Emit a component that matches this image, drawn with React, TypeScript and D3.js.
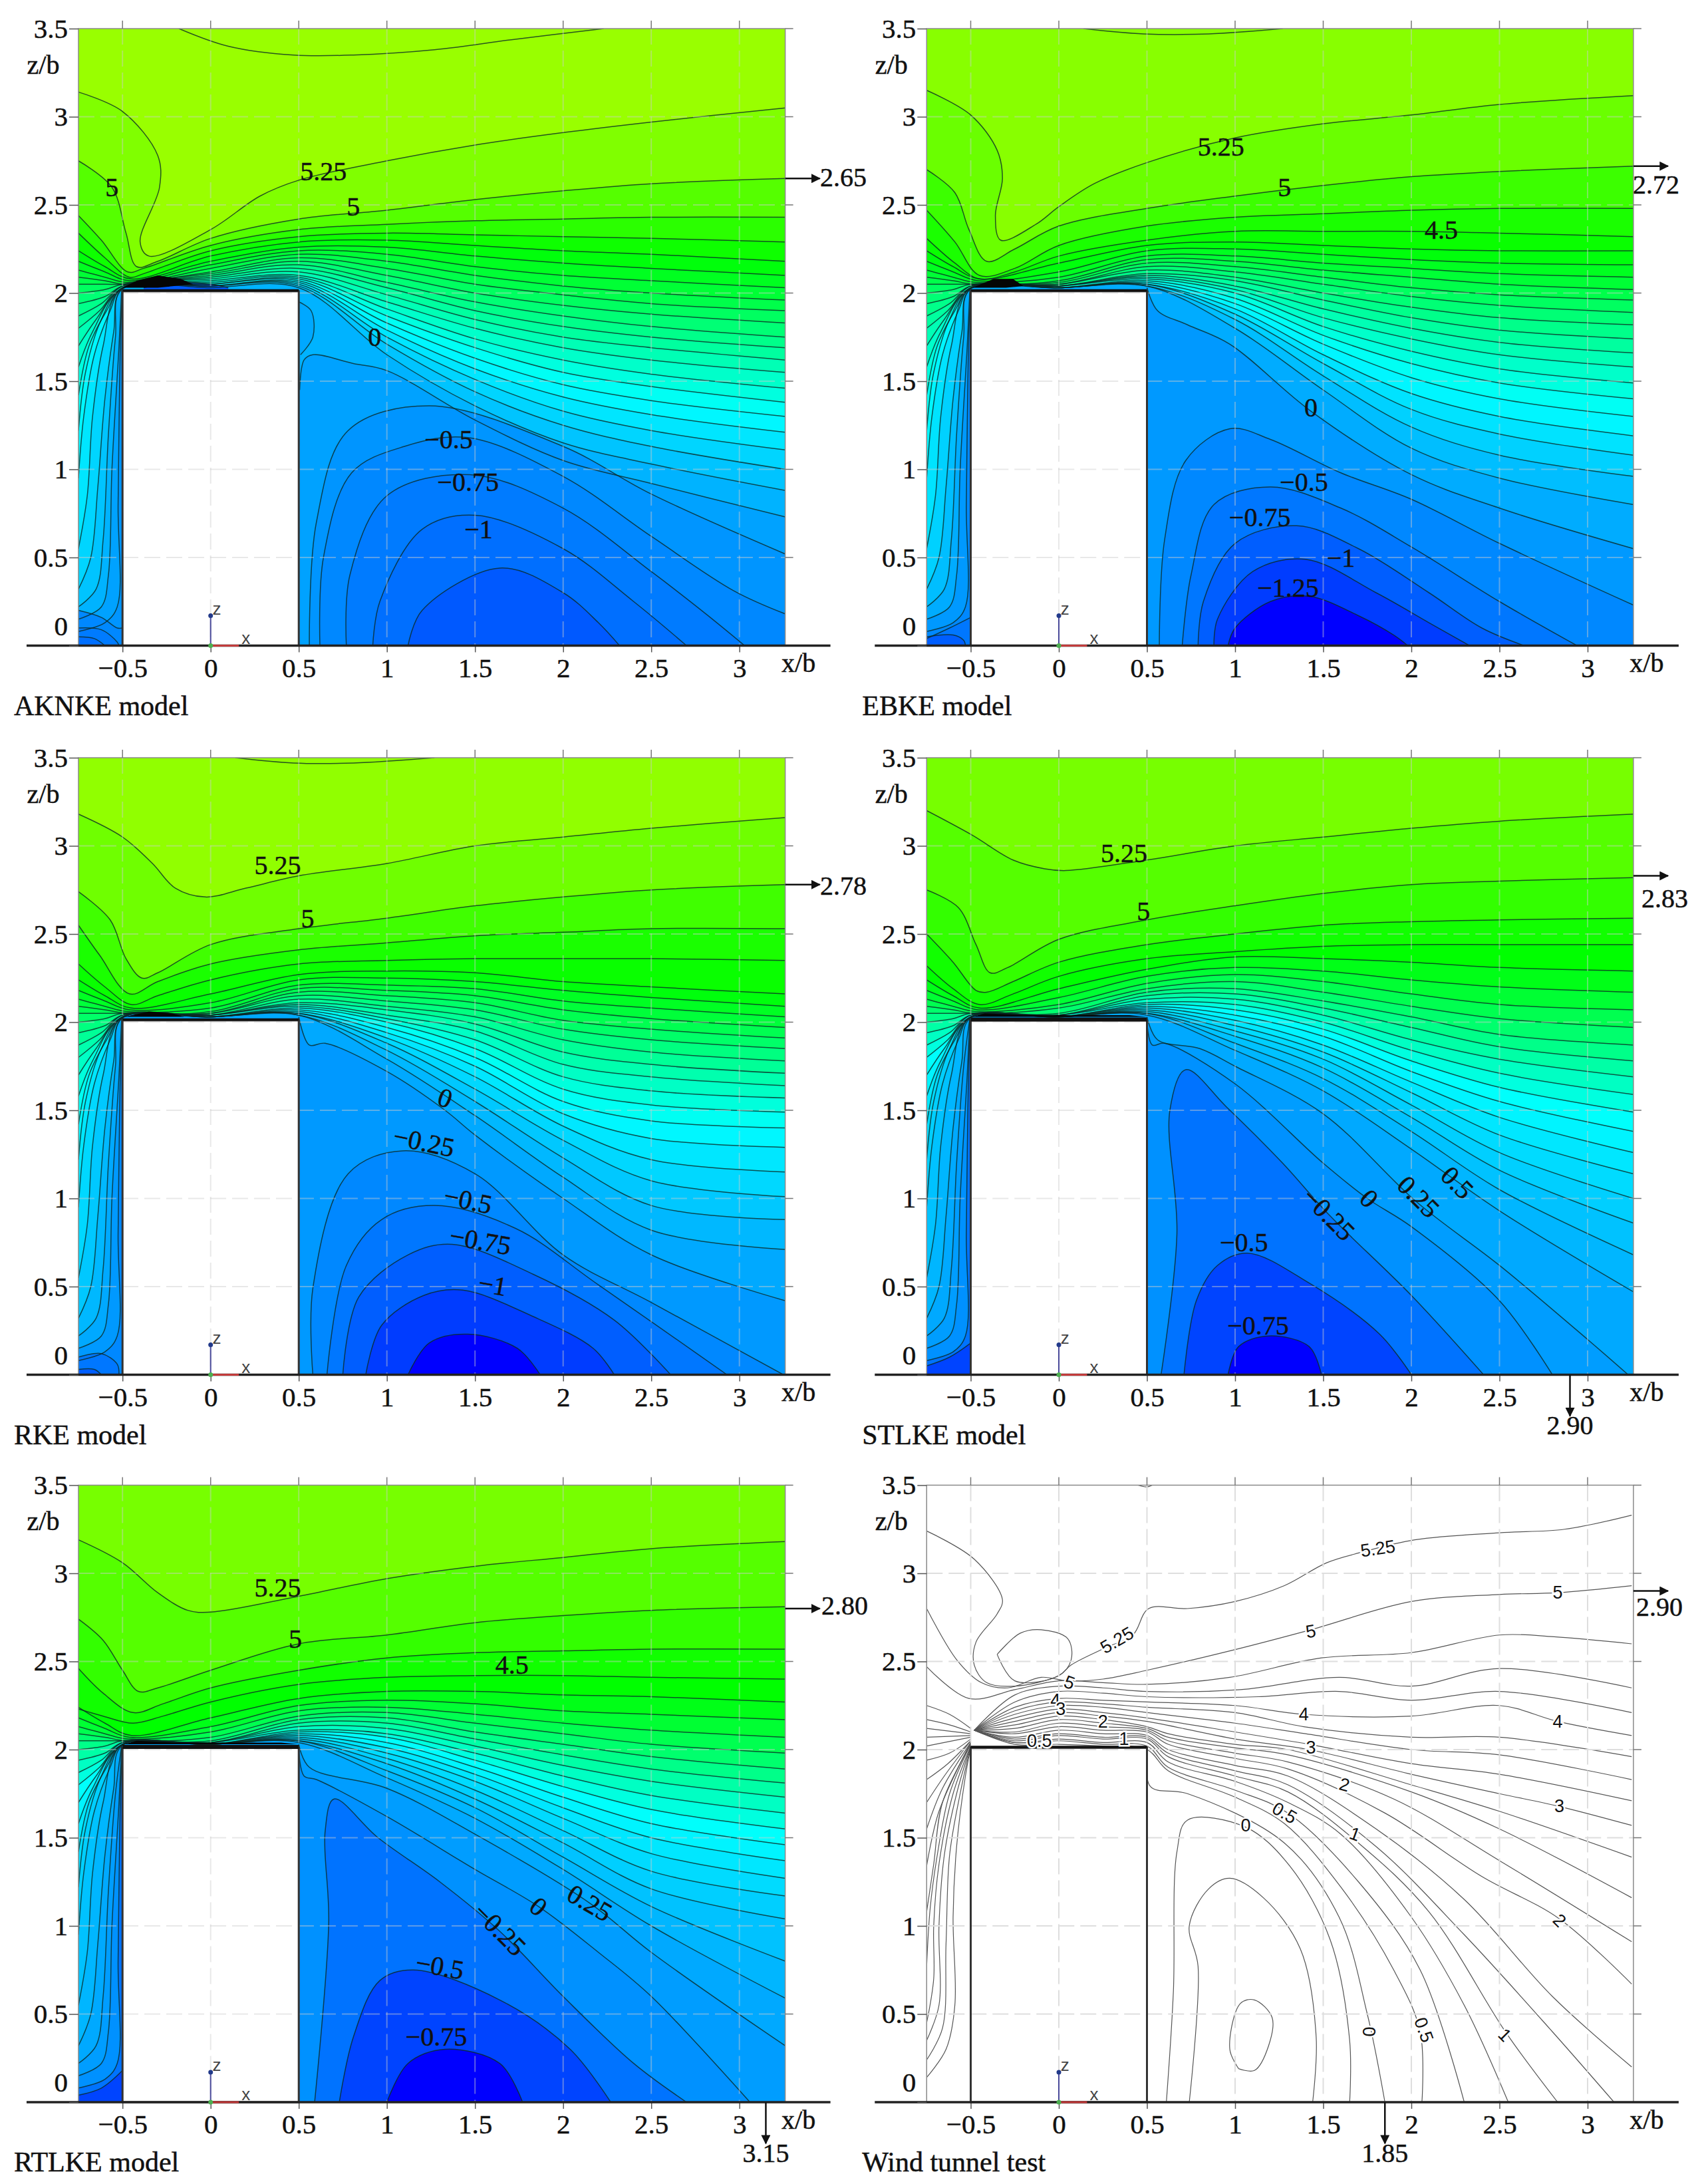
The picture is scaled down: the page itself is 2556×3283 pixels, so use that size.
import { useEffect, useRef } from 'react';
import * as d3 from 'd3';

const xTicks = [-0.5, 0, 0.5, 1, 1.5, 2, 2.5, 3];
const zTicks = [0, 0.5, 1, 1.5, 2, 2.5, 3, 3.5];

// x stations of the fan of contour lines downstream of the roof
const fanX = [0, 0.5, 1, 1.5, 2, 2.5, 3.26];
const rowLevels = [4.25, 4, 3.75, 3.5, 3.25, 3, 2.75, 2.5, 2.25, 2, 1.75, 1.5, 1.25, 1, 0.75, 0.5, 0.25];

// contour lines on the windward wall, left edge up to the corner (x,z pairs)
const wallChains: Record<string, number[]> = {
  '4.25': [-0.75, 2.24, -0.6, 2.15, -0.45, 2.08],
  '4': [-0.75, 2.18, -0.6, 2.12, -0.46, 2.07],
  '3.75': [-0.75, 2.13, -0.6, 2.09, -0.47, 2.06],
  '3.5': [-0.75, 2.09, -0.6, 2.07, -0.48, 2.05],
  '3.25': [-0.75, 2.05, -0.6, 2.05, -0.49, 2.05],
  '3': [-0.75, 2.0, -0.6, 2.02, -0.5, 2.05],
  '2.75': [-0.75, 1.94, -0.6, 1.98, -0.5, 2.04],
  '2.5': [-0.75, 1.87, -0.62, 1.94, -0.5, 2.04],
  '2.25': [-0.75, 1.8, -0.63, 1.9, -0.5, 2.04],
  '2': [-0.75, 1.7, -0.65, 1.85, -0.5, 2.03],
  '1.75': [-0.75, 1.58, -0.67, 1.78, -0.5, 2.03],
  '1.5': [-0.75, 1.42, -0.69, 1.7, -0.59, 1.9, -0.5, 2.03],
  '1.25': [-0.75, 1.22, -0.71, 1.55, -0.62, 1.85, -0.5, 2.03],
  '1': [-0.75, 0.95, -0.72, 1.3, -0.66, 1.65, -0.57, 1.9, -0.5, 2.03],
  '0.75': [-0.75, 0.55, -0.7, 0.85, -0.67, 1.3, -0.61, 1.7, -0.51, 2.02],
  '0.5': [-0.75, 0.32, -0.68, 0.5, -0.64, 0.9, -0.6, 1.4, -0.55, 1.78, -0.505, 2.02],
  '0.25': [-0.75, 0.22, -0.65, 0.32, -0.61, 0.6, -0.58, 1.2, -0.54, 1.75, -0.505, 2.02],
  '0': [-0.75, 0.15, -0.62, 0.22, -0.58, 0.4, -0.56, 1, -0.52, 1.7, -0.505, 2.02],
  '-0.25': [-0.75, 0.08, -0.6, 0.13, -0.53, 0.22, -0.525, 0.8, -0.51, 1.8, -0.5, 2.0],
};

// AKNKE
const aknkeColumns = [
  [2.21, 2.18, 2.16, 2.14, 2.12, 2.11, 2.1, 2.09, 2.08, 2.07, 2.06, 2.05, 2.05, 2.04, 2.04, 2.04, 2.03],
  [2.29, 2.26, 2.24, 2.22, 2.2, 2.18, 2.16, 2.14, 2.12, 2.1, 2.09, 2.08, 2.07, 2.06, 2.05, 2.04, 2.03],
  [2.3, 2.26, 2.22, 2.18, 2.14, 2.1, 2.06, 2.03, 1.99, 1.95, 1.91, 1.87, 1.83, 1.79, 1.75, 1.71, 1.65],
  [2.27, 2.21, 2.15, 2.1, 2.05, 2.0, 1.95, 1.9, 1.85, 1.8, 1.74, 1.69, 1.63, 1.57, 1.51, 1.44, 1.36],
  [2.24, 2.17, 2.1, 2.04, 1.99, 1.93, 1.87, 1.81, 1.75, 1.69, 1.62, 1.55, 1.48, 1.41, 1.33, 1.25, 1.15],
  [2.22, 2.14, 2.07, 2.0, 1.94, 1.88, 1.81, 1.75, 1.69, 1.62, 1.54, 1.47, 1.39, 1.31, 1.22, 1.13, 1.03],
  [2.18, 2.1, 2.03, 1.96, 1.9, 1.83, 1.75, 1.69, 1.62, 1.55, 1.46, 1.38, 1.3, 1.21, 1.11, 1.0, 0.88],
];
const aknkeLines: [number, number[]][] = [
  [5.5, [-0.18, 3.5, 0.1, 3.4, 0.47, 3.35, 0.81, 3.35, 1.27, 3.38, 1.73, 3.44, 2.23, 3.5]],
  [5.25, [-0.75, 3.14, -0.5, 3.03, -0.3, 2.78, -0.29, 2.6, -0.4, 2.29, -0.35, 2.21, 0, 2.36, 0.28, 2.55, 0.5, 2.64, 1, 2.75, 1.5, 2.84, 2, 2.91, 2.5, 2.97, 3.26, 3.05]],
  [5, [-0.75, 2.75, -0.56, 2.6, -0.48, 2.34, -0.42, 2.15, -0.3, 2.18, 0, 2.31, 0.5, 2.42, 1, 2.47, 1.5, 2.53, 2, 2.58, 2.5, 2.62, 3.26, 2.65]],
  [4.75, [-0.75, 2.44, -0.62, 2.3, -0.47, 2.12, -0.38, 2.14, 0, 2.27, 0.5, 2.36, 1, 2.39, 1.5, 2.41, 2, 2.42, 2.5, 2.43, 3.26, 2.43]],
  [4.5, [-0.75, 2.34, -0.6, 2.2, -0.46, 2.09, -0.38, 2.11, 0, 2.24, 0.5, 2.32, 1, 2.34, 1.5, 2.33, 2, 2.32, 2.5, 2.31, 3.26, 2.29]],
  [0.1, [0.5, 1.95, 0.57, 1.9, 0.58, 1.75, 0.51, 1.65]],
  [0, [0.505, 1.45, 0.53, 1.62, 0.58, 1.65, 0.81, 1.6, 1, 1.56, 1.5, 1.28, 2, 1.05, 2.5, 0.92, 3.26, 0.73]],
  [-0.25, [0.56, 0, 0.6, 0.7, 0.78, 1.22, 1.24, 1.36, 2, 1.13, 2.5, 0.86, 3.26, 0.52]],
  [-0.5, [0.62, 0, 0.64, 0.5, 0.8, 0.98, 1.1, 1.13, 1.46, 1.18, 2, 0.96, 2.5, 0.62, 2.97, 0.31, 3.26, 0.18]],
  [-0.75, [0.77, 0, 0.79, 0.4, 1, 0.85, 1.47, 0.97, 2, 0.78, 2.5, 0.42, 2.81, 0.18, 3.03, 0]],
  [-1, [0.92, 0, 0.96, 0.25, 1.2, 0.66, 1.5, 0.74, 2, 0.55, 2.4, 0.25, 2.7, 0]],
  [-1.25, [1.12, 0, 1.2, 0.2, 1.64, 0.44, 2, 0.3, 2.2, 0.13, 2.32, 0]],
  [-0.5, [-0.75, 0.2, -0.62, 0.16, -0.53, 0.1, -0.5, 0.1]],
  [-0.75, [-0.75, 0.1, -0.62, 0.09, -0.53, 0.02, -0.52, 0]],
  [-1, [-0.75, 0.05, -0.66, 0.04, -0.6, 0]],
  [-1.25, [-0.38, 2.03, -0.2, 2.06, 0, 2.05, 0.1, 2.03]],
];
const aknkeLabels: [string, number, number, number][] = [
  ['5', -0.56, 2.6, 0], ['5.25', 0.64, 2.69, 0], ['5', 0.81, 2.49, 0], ['0', 0.93, 1.75, 0],
  ['\u22120.5', 1.35, 1.17, 0], ['\u22120.75', 1.46, 0.93, 0], ['\u22121', 1.52, 0.66, 0],
];

// EBKE
const ebkeColumns = [
  [2.17, 2.12, 2.09, 2.07, 2.06, 2.05, 2.05, 2.04, 2.04, 2.04, 2.04, 2.03, 2.03, 2.03, 2.03, 2.03, 2.03],
  [2.27, 2.24, 2.21, 2.19, 2.17, 2.15, 2.13, 2.11, 2.1, 2.09, 2.08, 2.07, 2.06, 2.05, 2.05, 2.04, 2.04],
  [2.29, 2.25, 2.21, 2.18, 2.15, 2.12, 2.09, 2.07, 2.04, 2.02, 2.0, 1.97, 1.94, 1.91, 1.88, 1.85, 1.8],
  [2.27, 2.22, 2.17, 2.13, 2.09, 2.05, 2.0, 1.96, 1.91, 1.86, 1.81, 1.76, 1.71, 1.65, 1.6, 1.53, 1.45],
  [2.25, 2.19, 2.14, 2.09, 2.03, 1.98, 1.92, 1.86, 1.8, 1.74, 1.67, 1.6, 1.52, 1.43, 1.34, 1.24, 1.12],
  [2.24, 2.17, 2.11, 2.05, 1.99, 1.93, 1.86, 1.79, 1.72, 1.65, 1.57, 1.49, 1.4, 1.3, 1.2, 1.08, 0.95],
  [2.24, 2.16, 2.09, 2.02, 1.96, 1.89, 1.82, 1.74, 1.66, 1.58, 1.49, 1.4, 1.3, 1.19, 1.08, 0.96, 0.8],
];
const ebkeLines: [number, number[]][] = [
  [5.5, [0.14, 3.5, 0.48, 3.47, 0.85, 3.47, 1.27, 3.5]],
  [5.25, [-0.75, 3.15, -0.5, 3.01, -0.35, 2.81, -0.32, 2.65, -0.36, 2.44, -0.33, 2.3, -0.13, 2.39, 0, 2.49, 0.2, 2.62, 0.5, 2.74, 1, 2.88, 1.5, 2.96, 2, 3.01, 2.5, 3.07, 3.26, 3.12]],
  [5, [-0.75, 2.7, -0.59, 2.57, -0.51, 2.36, -0.41, 2.18, -0.25, 2.25, 0, 2.38, 0.5, 2.48, 1, 2.55, 1.5, 2.61, 2, 2.66, 2.5, 2.69, 3.26, 2.72]],
  [4.75, [-0.75, 2.47, -0.59, 2.29, -0.45, 2.1, -0.25, 2.14, 0, 2.27, 0.5, 2.38, 1, 2.43, 1.5, 2.45, 2, 2.47, 2.5, 2.48, 3.26, 2.48]],
  [4.5, [-0.75, 2.31, -0.59, 2.17, -0.45, 2.08, -0.25, 2.12, 0, 2.21, 0.5, 2.3, 1, 2.35, 1.5, 2.35, 2, 2.35, 2.5, 2.34, 3.26, 2.32]],
  [0, [0.5, 2.03, 0.56, 1.9, 0.73, 1.82, 0.97, 1.71, 1.43, 1.33, 2, 0.97, 2.5, 0.78, 3.26, 0.55]],
  [-0.25, [0.57, 0, 0.6, 0.6, 0.72, 1.05, 0.97, 1.23, 1.2, 1.17, 1.6, 0.98, 2, 0.83, 2.5, 0.58, 3.26, 0.23]],
  [-0.5, [0.7, 0, 0.75, 0.4, 0.88, 0.8, 1.2, 0.9, 1.6, 0.78, 2, 0.56, 2.5, 0.25, 2.94, 0]],
  [-0.75, [0.79, 0, 0.82, 0.25, 1.0, 0.58, 1.35, 0.68, 1.7, 0.55, 2.1, 0.3, 2.4, 0.1, 2.64, 0]],
  [-1, [0.88, 0, 0.9, 0.15, 1.1, 0.42, 1.4, 0.49, 1.8, 0.3, 2.1, 0.13, 2.33, 0]],
  [-1.25, [0.96, 0, 1.0, 0.1, 1.2, 0.25, 1.42, 0.28, 1.7, 0.17, 1.9, 0.06, 1.98, 0]],
  [-0.5, [-0.75, 0.04, -0.62, 0.1, -0.5, 0.16]],
  [-0.75, [-0.75, 0.05, -0.6, 0.06, -0.54, 0.03, -0.53, 0]],
];
const ebkeLabels: [string, number, number, number][] = [
  ['5.25', 0.92, 2.83, 0], ['5', 1.28, 2.6, 0], ['4.5', 2.17, 2.36, 0], ['0', 1.43, 1.35, 0],
  ['\u22120.5', 1.39, 0.93, 0], ['\u22120.75', 1.14, 0.73, 0], ['\u22121', 1.6, 0.5, 0], ['\u22121.25', 1.3, 0.33, 0],
];

// RKE
const rkeColumns = [
  [2.16, 2.11, 2.08, 2.06, 2.05, 2.05, 2.04, 2.04, 2.04, 2.04, 2.03, 2.03, 2.03, 2.03, 2.03, 2.03, 2.03],
  [2.27, 2.24, 2.21, 2.19, 2.17, 2.15, 2.13, 2.11, 2.1, 2.09, 2.08, 2.07, 2.06, 2.05, 2.05, 2.04, 2.04],
  [2.29, 2.25, 2.21, 2.18, 2.15, 2.12, 2.09, 2.07, 2.04, 2.02, 2.0, 1.97, 1.94, 1.91, 1.88, 1.84, 1.79],
  [2.28, 2.23, 2.19, 2.15, 2.11, 2.07, 2.03, 1.99, 1.95, 1.9, 1.85, 1.8, 1.75, 1.69, 1.62, 1.55, 1.47],
  [2.23, 2.18, 2.12, 2.07, 2.01, 1.96, 1.9, 1.83, 1.76, 1.69, 1.62, 1.55, 1.48, 1.41, 1.33, 1.23, 1.12],
  [2.2, 2.14, 2.08, 2.02, 1.96, 1.9, 1.83, 1.76, 1.69, 1.61, 1.53, 1.44, 1.34, 1.22, 1.1, 0.96, 0.82],
  [2.16, 2.09, 2.03, 1.97, 1.91, 1.85, 1.78, 1.71, 1.64, 1.57, 1.49, 1.4, 1.29, 1.15, 1.01, 0.88, 0.71],
];
const rkeLines: [number, number[]][] = [
  [5.5, [0.14, 3.5, 0.47, 3.47, 0.81, 3.47, 1.27, 3.5]],
  [5.25, [-0.75, 3.18, -0.5, 3.05, -0.33, 2.9, -0.2, 2.76, -0.03, 2.71, 0.2, 2.76, 0.5, 2.83, 1, 2.9, 1.5, 3.0, 2, 3.05, 2.5, 3.1, 3.26, 3.16]],
  [5, [-0.75, 2.74, -0.57, 2.58, -0.48, 2.36, -0.39, 2.25, -0.3, 2.28, 0, 2.44, 0.5, 2.53, 1, 2.59, 1.5, 2.66, 2, 2.71, 2.5, 2.75, 3.26, 2.78]],
  [4.75, [-0.75, 2.55, -0.63, 2.38, -0.46, 2.16, -0.3, 2.23, 0, 2.33, 0.5, 2.41, 1, 2.45, 1.5, 2.49, 2, 2.51, 2.5, 2.53, 3.26, 2.53]],
  [4.5, [-0.75, 2.33, -0.6, 2.2, -0.45, 2.1, -0.3, 2.15, 0, 2.24, 0.5, 2.33, 1, 2.35, 1.5, 2.36, 2, 2.36, 2.5, 2.36, 3.26, 2.35]],
  [0, [0.5, 2.03, 0.56, 1.87, 0.65, 1.88, 1, 1.72, 1.33, 1.5, 1.5, 1.36, 2, 1.0, 2.5, 0.68, 3.26, 0.42]],
  [-0.25, [0.58, 0, 0.58, 0.49, 0.78, 1.14, 1.09, 1.27, 1.5, 1.14, 2, 0.68, 2.5, 0.41, 3.25, 0]],
  [-0.5, [0.66, 0, 0.77, 0.62, 0.97, 0.88, 1.27, 0.96, 1.73, 0.83, 2.2, 0.51, 2.93, 0]],
  [-0.75, [0.75, 0, 0.84, 0.44, 1.12, 0.68, 1.37, 0.74, 1.83, 0.57, 2.29, 0.31, 2.61, 0]],
  [-1, [0.88, 0, 0.97, 0.28, 1.21, 0.45, 1.43, 0.48, 1.83, 0.33, 2.17, 0.15, 2.29, 0]],
  [-1.25, [1.12, 0, 1.24, 0.18, 1.46, 0.23, 1.74, 0.15, 1.87, 0]],
  [-0.5, [-0.75, 0.1, -0.62, 0.12, -0.53, 0.06, -0.52, 0]],
  [-0.75, [-0.75, 0.03, -0.66, 0.03, -0.62, 0]],
];
const rkeLabels: [string, number, number, number][] = [
  ['5.25', 0.38, 2.89, 0], ['5', 0.55, 2.59, 0], ['0', 1.33, 1.57, 20], ['\u22120.25', 1.21, 1.32, 12],
  ['\u22120.5', 1.46, 0.99, 12], ['\u22120.75', 1.53, 0.76, 10], ['\u22121', 1.6, 0.51, 10],
];

// STLKE
const stlkeColumns = [
  [2.19, 2.14, 2.1, 2.08, 2.05, 2.04, 2.04, 2.04, 2.03, 2.03, 2.03, 2.03, 2.03, 2.03, 2.03, 2.03],
  [2.3, 2.26, 2.22, 2.19, 2.17, 2.15, 2.13, 2.11, 2.1, 2.09, 2.08, 2.07, 2.06, 2.05, 2.05, 2.04],
  [2.37, 2.31, 2.27, 2.23, 2.19, 2.16, 2.13, 2.1, 2.07, 2.04, 2.01, 1.98, 1.95, 1.92, 1.88, 1.84],
  [2.36, 2.29, 2.23, 2.17, 2.12, 2.08, 2.04, 2.0, 1.96, 1.92, 1.87, 1.83, 1.79, 1.74, 1.68, 1.61],
  [2.34, 2.24, 2.16, 2.09, 2.03, 1.97, 1.9, 1.84, 1.78, 1.72, 1.66, 1.6, 1.53, 1.46, 1.38, 1.28],
  [2.31, 2.2, 2.1, 2.02, 1.93, 1.86, 1.79, 1.71, 1.63, 1.55, 1.46, 1.36, 1.26, 1.16, 1.05, 0.93],
  [2.29, 2.17, 2.07, 1.97, 1.87, 1.78, 1.69, 1.59, 1.49, 1.38, 1.26, 1.14, 1.0, 0.86, 0.68, 0.47],
];
const stlkeLines: [number, number[]][] = [
  [5.25, [-0.75, 3.2, -0.49, 3.06, -0.26, 2.92, -0.08, 2.87, 0.04, 2.86, 0.5, 2.92, 1, 3.0, 1.5, 3.05, 2, 3.1, 2.5, 3.14, 3.26, 3.18]],
  [5, [-0.75, 2.75, -0.57, 2.65, -0.47, 2.44, -0.39, 2.28, -0.29, 2.31, 0, 2.47, 0.5, 2.58, 1, 2.66, 1.5, 2.73, 2, 2.78, 2.5, 2.8, 3.26, 2.82]],
  [4.75, [-0.75, 2.5, -0.6, 2.34, -0.47, 2.18, -0.41, 2.17, -0.26, 2.23, 0, 2.34, 0.5, 2.44, 1, 2.5, 1.5, 2.55, 2, 2.57, 2.5, 2.58, 3.26, 2.59]],
  [4.5, [-0.75, 2.32, -0.6, 2.19, -0.45, 2.1, -0.26, 2.16, 0, 2.26, 0.5, 2.36, 1, 2.4, 1.5, 2.43, 2, 2.44, 2.5, 2.44, 3.26, 2.44]],
  [0.25, [0.5, 2.03, 0.56, 1.9, 0.8, 1.85, 1, 1.75, 1.5, 1.48, 2.03, 0.98, 2.5, 0.62, 3, 0.2, 3.23, 0]],
  [0, [0.5, 2.0, 0.53, 1.87, 0.6, 1.88, 1, 1.65, 1.5, 1.2, 1.75, 1.0, 2, 0.84, 2.5, 0.42, 2.8, 0]],
  [-0.25, [0.58, 0, 0.67, 0.8, 0.63, 1.5, 0.72, 1.73, 0.95, 1.52, 1.27, 1.2, 1.53, 0.91, 2, 0.45, 2.41, 0]],
  [-0.5, [0.71, 0, 0.78, 0.42, 0.9, 0.62, 1.07, 0.69, 1.42, 0.52, 1.82, 0.23, 2, 0]],
  [-0.75, [0.96, 0, 1.02, 0.16, 1.19, 0.22, 1.42, 0.16, 1.49, 0]],
  [-0.5, [-0.75, 0.05, -0.62, 0.1, -0.5, 0.18]],
];
const stlkeLabels: [string, number, number, number][] = [
  ['5.25', 0.37, 2.96, 0], ['5', 0.48, 2.63, 0], ['0.5', 2.26, 1.09, 45], ['0.25', 2.04, 1.01, 45], ['0', 1.76, 1.0, 45],
  ['\u22120.25', 1.53, 0.91, 45], ['\u22120.5', 1.05, 0.75, 0], ['\u22120.75', 1.13, 0.28, 0],
];

// RTLKE
const rtlkeColumns = [
  [2.18, 2.13, 2.1, 2.07, 2.05, 2.04, 2.04, 2.04, 2.03, 2.03, 2.03, 2.03, 2.03, 2.03, 2.03, 2.03],
  [2.29, 2.25, 2.22, 2.19, 2.17, 2.15, 2.13, 2.11, 2.1, 2.09, 2.08, 2.07, 2.06, 2.05, 2.05, 2.04],
  [2.33, 2.28, 2.24, 2.21, 2.18, 2.15, 2.12, 2.09, 2.07, 2.04, 2.01, 1.98, 1.95, 1.92, 1.88, 1.84],
  [2.33, 2.26, 2.2, 2.15, 2.1, 2.06, 2.02, 1.98, 1.94, 1.9, 1.86, 1.82, 1.77, 1.72, 1.67, 1.61],
  [2.31, 2.22, 2.15, 2.09, 2.03, 1.97, 1.91, 1.85, 1.79, 1.73, 1.67, 1.61, 1.54, 1.47, 1.39, 1.32],
  [2.3, 2.2, 2.11, 2.03, 1.96, 1.89, 1.82, 1.74, 1.66, 1.58, 1.5, 1.41, 1.31, 1.21, 1.11, 1.0],
  [2.27, 2.17, 2.07, 1.98, 1.89, 1.81, 1.73, 1.64, 1.55, 1.46, 1.37, 1.27, 1.17, 1.04, 0.8, 0.59],
];
const rtlkeLines: [number, number[]][] = [
  [5.25, [-0.75, 3.19, -0.5, 3.06, -0.3, 2.89, -0.13, 2.79, 0, 2.78, 0.5, 2.87, 1, 2.97, 1.5, 3.04, 2, 3.09, 2.5, 3.14, 3.26, 3.18]],
  [5, [-0.75, 2.74, -0.61, 2.62, -0.5, 2.45, -0.41, 2.33, -0.3, 2.35, 0, 2.45, 0.5, 2.6, 1, 2.65, 1.5, 2.72, 2, 2.76, 2.5, 2.79, 3.26, 2.81]],
  [4.75, [-0.75, 2.46, -0.61, 2.32, -0.44, 2.21, -0.27, 2.26, 0, 2.35, 0.5, 2.45, 1, 2.52, 1.5, 2.55, 2, 2.56, 2.5, 2.57, 3.26, 2.57]],
  [4.5, [-0.75, 2.23, -0.61, 2.19, -0.44, 2.15, -0.27, 2.19, 0, 2.27, 0.5, 2.37, 1, 2.41, 1.5, 2.42, 2, 2.42, 2.5, 2.41, 3.26, 2.4]],
  [0.25, [0.5, 2.03, 0.56, 1.9, 1, 1.78, 1.5, 1.52, 2.15, 1.13, 2.5, 0.85, 3.26, 0.32]],
  [0, [0.5, 2.0, 0.53, 1.85, 0.6, 1.83, 1, 1.62, 1.5, 1.32, 1.86, 1.11, 2.2, 0.85, 2.5, 0.6, 3.06, 0]],
  [-0.25, [0.59, 0, 0.67, 1.02, 0.65, 1.54, 0.7, 1.72, 0.95, 1.5, 1.3, 1.25, 1.64, 0.97, 2, 0.6, 2.4, 0.22, 2.7, 0]],
  [-0.5, [0.73, 0, 0.81, 0.37, 0.96, 0.69, 1.15, 0.75, 1.64, 0.58, 2.04, 0.3, 2.27, 0]],
  [-0.75, [1, 0, 1.12, 0.22, 1.33, 0.3, 1.64, 0.22, 1.77, 0]],
  [-0.5, [-0.75, 0.04, -0.62, 0.08, -0.5, 0.18]],
];
const rtlkeLabels: [string, number, number, number][] = [
  ['5.25', 0.38, 2.92, 0], ['5', 0.48, 2.63, 0], ['4.5', 1.71, 2.48, 0], ['0.25', 2.15, 1.13, 30], ['0', 1.86, 1.11, 40],
  ['\u22120.25', 1.64, 0.98, 45], ['\u22120.5', 1.3, 0.77, 10], ['\u22120.75', 1.28, 0.37, 0],
];

// Wind tunnel test: lines only
const tunnelLines: number[][] = [
  [0.45, 3.5, 0.5, 3.49, 0.53, 3.5],
  [-0.75, 3.24, -0.48, 3.08, -0.32, 2.85, -0.35, 2.77, -0.47, 2.61, -0.48, 2.48, -0.41, 2.38, -0.25, 2.36, 0, 2.42, 0.07, 2.48, 0.27, 2.58, 0.42, 2.65, 0.51, 2.8, 0.73, 2.8, 1, 2.84, 1.28, 2.93, 1.52, 3.06, 1.72, 3.12, 2.02, 3.19, 2.5, 3.23, 2.87, 3.25, 3.25, 3.33],
  [-0.35, 2.54, -0.22, 2.66, -0.1, 2.68, 0.05, 2.63, 0.07, 2.51, 0, 2.42, -0.25, 2.39, -0.35, 2.54],
  [-0.75, 2.8, -0.58, 2.51, -0.44, 2.38, -0.29, 2.35, -0.1, 2.41, 0.05, 2.39, 0.25, 2.4, 0.5, 2.45, 0.97, 2.56, 1.43, 2.68, 2, 2.84, 2.5, 2.88, 2.83, 2.89, 3.25, 2.93],
  [-0.75, 2.47, -0.51, 2.29, -0.25, 2.34, 0, 2.39, 0.25, 2.38, 0.5, 2.37, 0.97, 2.41, 1.49, 2.52, 2, 2.55, 2.5, 2.65, 2.81, 2.64, 3.25, 2.6],
  [1.02, 0.19, 0.97, 0.3, 1.03, 0.56, 1.11, 0.58, 1.21, 0.48, 1.19, 0.32, 1.11, 0.18, 1.02, 0.19],
  [0.74, 0, 0.79, 0.77, 0.74, 1.0, 0.85, 1.21, 0.97, 1.27, 1.16, 1.16, 1.37, 0.87, 1.46, 0.37, 1.44, 0],
  [0.61, 0, 0.65, 0.63, 0.67, 1.42, 0.73, 1.6, 1.06, 1.56, 1.31, 1.34, 1.54, 0.92, 1.65, 0.35, 1.65, 0],
  [0.5, 2.0, 0.52, 1.79, 0.73, 1.75, 1.28, 1.47, 1.59, 1.05, 1.75, 0.5, 1.85, 0],
];
// wall side of the wind tunnel panel
const tunnelWall: number[][] = [
  [-0.75, 2.25, -0.62, 2.2, -0.5, 2.12],
  [-0.75, 2.17, -0.62, 2.14, -0.5, 2.1],
  [-0.75, 2.12, -0.5, 2.09],
  [-0.75, 2.07, -0.5, 2.08],
  [-0.75, 2.02, -0.5, 2.07],
  [-0.75, 1.94, -0.62, 1.98, -0.5, 2.06],
  [-0.75, 1.83, -0.63, 1.92, -0.5, 2.05],
  [-0.75, 1.7, -0.65, 1.85, -0.5, 2.05],
  [-0.75, 1.55, -0.66, 1.78, -0.5, 2.04],
  [-0.75, 1.34, -0.68, 1.65, -0.5, 2.04],
  [-0.75, 1.08, -0.71, 1.35, -0.66, 1.7, -0.5, 2.03],
  [-0.75, 0.77, -0.73, 1.1, -0.69, 1.4, -0.62, 1.75, -0.5, 2.03],
  [-0.75, 0.45, -0.71, 0.7, -0.71, 1.0, -0.68, 1.35, -0.6, 1.75, -0.5, 2.02],
  [-0.75, 0.35, -0.68, 0.55, -0.68, 1.0, -0.65, 1.4, -0.58, 1.75, -0.5, 2.02],
  [-0.75, 0.24, -0.66, 0.42, -0.64, 0.9, -0.62, 1.4, -0.56, 1.75, -0.5, 2.02],
  [-0.75, 0.14, -0.64, 0.3, -0.59, 0.55, -0.6, 1.05, -0.58, 1.45, -0.53, 1.85, -0.5, 2.01],
];
// over-roof hump: z at x = -0.25, 0, 0.25, one entry per downstream line below
const tunnelHumpA = [2.31, 2.27, 2.24, 2.22, 2.2, 2.18, 2.16, 2.14, 2.12, 2.1, 2.09, 2.07, 2.06, 2.05, 2.04, 2.04, 2.03];
const tunnelHumpB = [2.36, 2.33, 2.29, 2.27, 2.25, 2.23, 2.21, 2.19, 2.17, 2.15, 2.13, 2.11, 2.09, 2.08, 2.06, 2.05, 2.03];
const tunnelHumpC = [2.35, 2.32, 2.28, 2.26, 2.24, 2.21, 2.19, 2.17, 2.15, 2.13, 2.11, 2.09, 2.07, 2.06, 2.04, 2.03, 2.02];
const tunnelFan: number[][] = [
  [0.5, 2.33, 1.03, 2.34, 1.59, 2.41, 2, 2.36, 2.5, 2.46, 3.25, 2.35],
  [0.5, 2.3, 1.13, 2.3, 1.59, 2.33, 2, 2.28, 2.5, 2.33, 3.25, 2.21],
  [0.5, 2.27, 1, 2.25, 1.39, 2.2, 2, 2.19, 2.5, 2.25, 2.83, 2.16, 3.25, 2.08],
  [0.5, 2.24, 1, 2.21, 1.39, 2.13, 2, 2.07, 2.5, 2.07, 3.25, 1.96],
  [0.5, 2.21, 1, 2.15, 1.4, 2.09, 2, 2.0, 2.5, 1.97, 3.25, 1.83],
  [0.5, 2.18, 1, 2.1, 1.42, 2.03, 2, 1.92, 2.5, 1.86, 3.25, 1.71],
  [0.5, 2.16, 1, 2.06, 1.42, 2.0, 2, 1.86, 2.5, 1.75, 2.83, 1.68, 3.25, 1.57],
  [0.5, 2.13, 0.62, 2.09, 1, 2.03, 1.3, 2.0, 2, 1.8, 2.5, 1.65, 3.25, 1.39],
  [0.5, 2.12, 0.62, 2.07, 1, 2.01, 1.3, 1.97, 2, 1.76, 2.5, 1.55, 3.25, 1.16],
  [0.5, 2.11, 0.62, 2.05, 1, 1.98, 1.3, 1.93, 1.9, 1.72, 2.5, 1.37, 3.25, 0.91],
  [0.5, 2.1, 0.62, 2.03, 1, 1.95, 1.3, 1.89, 1.85, 1.64, 2.4, 1.28, 2.84, 1.04, 3.25, 0.67],
  [0.5, 2.08, 0.62, 2.0, 1, 1.91, 1.3, 1.85, 1.8, 1.55, 2.3, 1.15, 2.8, 0.6, 3.25, 0.2],
  [0.5, 2.07, 0.62, 1.98, 1, 1.88, 1.3, 1.8, 1.8, 1.45, 2.3, 0.95, 2.8, 0.4, 3.15, 0],
  [0.5, 2.06, 0.62, 1.96, 1, 1.85, 1.3, 1.76, 1.7, 1.47, 2.1, 1.08, 2.54, 0.39, 2.83, 0],
  [0.5, 2.04, 0.62, 1.93, 1, 1.82, 1.3, 1.7, 1.6, 1.52, 2, 1.05, 2.3, 0.55, 2.55, 0],
  [0.5, 2.02, 0.62, 1.9, 1, 1.77, 1.3, 1.64, 1.7, 1.25, 2.05, 0.75, 2.3, 0],
  [0.5, 2.0, 0.62, 1.88, 1, 1.73, 1.28, 1.58, 1.6, 1.22, 1.9, 0.75, 2.05, 0.4, 2.06, 0],
];
const tunnelLabels: [string, number, number, number][] = [
  ['5.25', 1.81, 3.14, -8], ['5', 2.83, 2.89, 0], ['5', 1.43, 2.67, -10], ['5.25', 0.33, 2.62, -30], ['5', 0.06, 2.38, 20],
  ['4', -0.02, 2.28, 0], ['3', 0.01, 2.23, 0], ['2', 0.25, 2.16, 0], ['1', 0.37, 2.06, 0], ['0.5', -0.11, 2.05, 0],
  ['4', 1.39, 2.2, 0], ['3', 1.43, 2.01, 0], ['2', 1.62, 1.8, 15], ['0.5', 1.28, 1.64, 30], ['0', 1.06, 1.57, 0], ['1', 1.68, 1.52, 20],
  ['4', 2.83, 2.16, 0], ['3', 2.84, 1.68, 0], ['2', 2.84, 1.03, 45], ['0', 1.76, 0.4, 90], ['0.5', 2.07, 0.41, 70], ['1', 2.53, 0.38, 45],
];

// dark smears where the lines pile up at the windward corner
const aknkePatch = [-0.5, 2.03, -0.42, 2.07, -0.3, 2.1, -0.17, 2.08, -0.1, 2.05, -0.3, 2.03];
const ebkePatch = [-0.49, 2.03, -0.37, 2.08, -0.26, 2.08, -0.2, 2.04, -0.3, 2.03];
const rkePatch = [-0.49, 2.03, -0.35, 2.06, -0.22, 2.05, -0.15, 2.03];
const stlkePatch = [-0.49, 2.03, -0.42, 2.05, -0.2, 2.04, 0.4, 2.04, 0.5, 2.03];
const rtlkePatch = [-0.49, 2.03, -0.42, 2.05, -0.2, 2.04, 0.4, 2.04, 0.5, 2.03];

const aknkeHue: [number[], number[]] = [[-1.375, -1.125, -0.875, -0.625, -0.125, 1.25, 4.25, 4.625, 4.875, 5.125, 5.5], [219, 214, 211, 208, 202, 180, 120, 110, 100, 90, 84]];
const ebkeHue: [number[], number[]] = [[-1.375, -1.125, -0.875, -0.625, -0.125, 1.25, 4.25, 4.625, 4.875, 5.125, 5.5], [240, 226, 218, 212, 204, 180, 120, 114, 106, 95, 88]];
const rkeHue: [number[], number[]] = [[-1.375, -1.125, -0.875, -0.625, -0.125, 1.5, 4.25, 4.625, 4.875, 5.125, 5.5], [240, 226, 218, 212, 204, 180, 120, 114, 105, 94, 86]];
const stlkeHue: [number[], number[]] = [[-0.875, -0.625, -0.375, -0.125, 2.1, 4.25, 4.625, 4.875, 5.125, 5.5], [240, 224, 213, 206, 180, 122, 116, 108, 100, 92]];

const tableLines = (columns: number[][], lines: [number, number[]][]): [number, number[]][] => {
  const rows: [number, number[]][] = columns[0].map((_, i) => {
    const level = rowLevels[i];
    const pts = [...wallChains[String(level)]];
    fanX.forEach((x, c) => pts.push(x, columns[c][i]));
    return [level, pts];
  });
  const used = new Set(rows.map(r => r[0]));
  const walls: [number, number[]][] = Object.keys(wallChains)
    .map(Number)
    .filter(l => !used.has(l))
    .map(l => [l, wallChains[String(l)]]);
  return [...lines, ...rows, ...walls].sort((a, b) => b[0] - a[0]);
};

const panels = [
  { name: 'AKNKE model', col: 0, y0: 970.5, lines: tableLines(aknkeColumns, aknkeLines), labels: aknkeLabels, hue: aknkeHue, patch: aknkePatch, right: 2.65, rightText: [1268, 266], down: null },
  { name: 'EBKE model', col: 1, y0: 970.5, lines: tableLines(ebkeColumns, ebkeLines), labels: ebkeLabels, hue: ebkeHue, patch: ebkePatch, right: 2.72, rightText: [2490, 277], down: null },
  { name: 'RKE model', col: 0, y0: 2066.5, lines: tableLines(rkeColumns, rkeLines), labels: rkeLabels, hue: rkeHue, patch: rkePatch, right: 2.78, rightText: [1268, 1331], down: null },
  { name: 'STLKE model', col: 1, y0: 2066.5, lines: tableLines(stlkeColumns, stlkeLines), labels: stlkeLabels, hue: stlkeHue, patch: stlkePatch, right: 2.83, rightText: [2503, 1350], down: 2.9 },
  { name: 'RTLKE model', col: 0, y0: 3160, lines: tableLines(rtlkeColumns, rtlkeLines), labels: rtlkeLabels, hue: stlkeHue, patch: rtlkePatch, right: 2.8, rightText: [1270, 2413], down: 3.15 },
  { name: 'Wind tunnel test', col: 1, y0: 3160, lines: null, labels: tunnelLabels, hue: null, patch: null, right: 2.9, rightText: [2495, 2415], down: 1.85 },
];

const columnX0 = [316.7, 1592];
const unit = 265;
const serif = '"Liberation Serif", serif';

const pairs = (flat: number[]) => d3.range(0, flat.length, 2).map(i => [flat[i], flat[i + 1]] as [number, number]);

const App = () => {
  const svgRef = useRef<SVGSVGElement>(null);

  useEffect(() => {
    const svg = d3.select(svgRef.current);
    svg.selectAll('*').remove();
    const defs = svg.append('defs');
    const marker = defs.append('marker').attr('id', 'arrow').attr('viewBox', '0 0 10 10').attr('refX', 9).attr('refY', 5)
      .attr('markerUnits', 'userSpaceOnUse').attr('markerWidth', 16).attr('markerHeight', 14).attr('orient', 'auto');
    marker.append('path').attr('d', 'M0,0L10,5L0,10Z').attr('fill', '#111');

    panels.forEach((p, idx) => {
      const x0 = columnX0[p.col];
      const x = d3.scaleLinear().domain([-0.75, 3.26]).range([x0 - 0.75 * unit, x0 + 3.26 * unit]);
      const z = d3.scaleLinear().domain([0, 3.5]).range([p.y0, p.y0 - 3.5 * unit]);
      const g = svg.append('g');
      const line = d3.line<[number, number]>().x(d => x(d[0])).y(d => z(d[1])).curve(d3.curveCatmullRom.alpha(0.5));

      const clipId = `plot-${idx}`;
      defs.append('clipPath').attr('id', clipId).append('rect')
        .attr('x', x(-0.75)).attr('y', z(3.5)).attr('width', x(3.26) - x(-0.75)).attr('height', z(0) - z(3.5));
      const plot = g.append('g').attr('clip-path', `url(#${clipId})`);

      if (p.lines && p.hue) {
        const hue = d3.scaleLinear().domain(p.hue[0]).range(p.hue[1]).clamp(true);
        const color = (v: number) => d3.hsl(hue(v), 1, 0.5).formatHex();
        plot.append('rect').attr('x', x(-0.75)).attr('y', z(3.5)).attr('width', x(3.26) - x(-0.75)).attr('height', z(0) - z(3.5))
          .attr('fill', color(5.5));
        p.lines.filter(([lv]) => lv <= 5.25).forEach(([lv, flat]) => {
          const pts = pairs(flat);
          const closing = `L${x(pts[pts.length - 1][0])},${z(0)}L${x(pts[0][0])},${z(0)}Z`;
          plot.append('path').attr('d', line(pts) + closing).attr('fill', color(lv - 0.125));
        });
        p.lines.forEach(([, flat]) => {
          plot.append('path').attr('d', line(pairs(flat))).attr('fill', 'none').attr('stroke', '#0b2a25').attr('stroke-width', 1.5).attr('stroke-opacity', 0.8);
        });
      } else {
        plot.append('rect').attr('x', x(-0.75)).attr('y', z(3.5)).attr('width', x(3.26) - x(-0.75)).attr('height', z(0) - z(3.5)).attr('fill', '#fff');
        const stroke = (flat: number[]) => plot.append('path').attr('d', line(pairs(flat))).attr('fill', 'none').attr('stroke', '#555').attr('stroke-width', 1.2);
        tunnelLines.forEach(stroke);
        tunnelWall.forEach(stroke);
        tunnelFan.forEach((f, i) => {
          const hump = i < tunnelHumpA.length
            ? [-0.48, 2.11, -0.25, tunnelHumpA[i], 0, tunnelHumpB[i], 0.25, tunnelHumpC[i]]
            : [];
          stroke([...hump, ...f]);
        });
      }

      // building
      plot.append('rect').attr('x', x(-0.5)).attr('y', z(2.01)).attr('width', x(0.5) - x(-0.5)).attr('height', z(0) - z(2.01)).attr('fill', '#fff');
      if (p.patch) {
        plot.append('path').attr('d', d3.line()(pairs(p.patch).map(d => [x(d[0]), z(d[1])])) + 'Z').attr('fill', '#050505');
      }

      // dashed grid
      const gridColor = p.lines ? 'rgba(205,205,205,0.45)' : '#dedede';
      xTicks.forEach(t => {
        g.append('line').attr('x1', x(t)).attr('x2', x(t)).attr('y1', z(3.5)).attr('y2', z(0))
          .attr('stroke', gridColor).attr('stroke-width', 2).attr('stroke-dasharray', '24 9');
      });
      zTicks.filter(t => t > 0 && t < 3.5).forEach(t => {
        g.append('line').attr('x1', x(-0.75)).attr('x2', x(3.26)).attr('y1', z(t)).attr('y2', z(t))
          .attr('stroke', gridColor).attr('stroke-width', 2).attr('stroke-dasharray', '24 9');
      });
      g.append('rect').attr('x', x(-0.5)).attr('y', z(2.01)).attr('width', x(0.5) - x(-0.5)).attr('height', z(0) - z(2.01))
        .attr('fill', 'none').attr('stroke', '#333').attr('stroke-width', 3);
      g.append('line').attr('x1', x(-0.5)).attr('x2', x(0.5)).attr('y1', z(2.015)).attr('y2', z(2.015)).attr('stroke', '#111').attr('stroke-width', idx === 3 || idx === 4 ? 6 : 3.5);

      // frame
      g.append('rect').attr('x', x(-0.75)).attr('y', z(3.5)).attr('width', x(3.26) - x(-0.75)).attr('height', z(0) - z(3.5))
        .attr('fill', 'none').attr('stroke', '#8a8a8a').attr('stroke-width', 1.5);

      // axes
      const bottom = g.append('g').attr('transform', `translate(0,${z(0)})`)
        .call(d3.axisBottom(x).tickValues(xTicks).tickSize(10).tickFormat(d => String(d).replace('-', '\u2212')));
      bottom.selectAll('text').attr('y', 18).attr('dy', '0.71em');
      bottom.select('.domain').remove();
      g.append('line').attr('x1', x(-0.75) - 78).attr('x2', x(3.26) + 68).attr('y1', z(0)).attr('y2', z(0)).attr('stroke', '#222').attr('stroke-width', 3.5);

      const left = g.append('g').attr('transform', `translate(${x(-0.75)},0)`)
        .call(d3.axisLeft(z).tickValues(zTicks).tickSize(14).tickFormat(d => String(d)));
      left.select('.domain').remove();
      left.selectAll('text').attr('dy', (d: any) => (d === 0 ? '-0.4em' : '0.32em')).attr('x', -16);

      g.selectAll('.tick line').attr('stroke', '#555').attr('stroke-width', 1.5);
      g.selectAll('.tick text').attr('fill', '#111').attr('stroke', '#111').attr('stroke-width', 0.5)
        .style('font-family', serif).style('font-size', '41px');
      xTicks.forEach(t => {
        g.append('line').attr('x1', x(t)).attr('x2', x(t)).attr('y1', z(3.5) - 12).attr('y2', z(3.5)).attr('stroke', '#777').attr('stroke-width', 1.5);
      });
      zTicks.filter(t => t > 0).forEach(t => {
        g.append('line').attr('x1', x(3.26)).attr('x2', x(3.26) + 12).attr('y1', z(t)).attr('y2', z(t)).attr('stroke', '#777').attr('stroke-width', 1.5);
      });

      const text = (s: string, px: number, py: number, size = 40, rot = 0, anchor = 'middle') => g.append('text')
        .attr('transform', `translate(${px},${py}) rotate(${rot})`).attr('text-anchor', anchor).attr('dominant-baseline', 'central')
        .attr('fill', '#111').attr('stroke', '#111').attr('stroke-width', 0.5)
        .style('font-family', serif).style('font-size', `${size}px`).text(s);

      text('z/b', x(-0.75) - 53, z(3.5) + 54);
      text('x/b', x(3.26) + 20, z(0) + 26);
      text(p.name, x(-0.75) - 97, z(0) + 90, 42, 0, 'start');

      // contour labels
      p.labels.forEach(([s, lx, lz, rot]) => {
        if (p.lines) {
          text(s, x(lx), z(lz), 40, rot);
        } else {
          text(s, x(lx), z(lz), 27, rot)
            .style('font-family', '"Liberation Sans", sans-serif')
            .attr('stroke', '#fff').attr('stroke-width', 5).attr('paint-order', 'stroke');
        }
      });

      // coordinate triad at the origin
      g.append('line').attr('x1', x(0)).attr('x2', x(0)).attr('y1', z(0)).attr('y2', z(0.17)).attr('stroke', '#4a4a9a').attr('stroke-width', 2);
      g.append('circle').attr('cx', x(0)).attr('cy', z(0.17)).attr('r', 3.5).attr('fill', '#223a8a');
      g.append('line').attr('x1', x(0)).attr('x2', x(0.16)).attr('y1', z(0)).attr('y2', z(0)).attr('stroke', '#c23b3b').attr('stroke-width', 3);
      g.append('circle').attr('cx', x(0)).attr('cy', z(0)).attr('r', 3.5).attr('fill', '#4caf50');
      text('z', x(0.035), z(0.21), 26).style('font-family', '"Liberation Sans", sans-serif').attr('fill', '#444').attr('stroke', 'none');
      text('x', x(0.2), z(0.045), 26).style('font-family', '"Liberation Sans", sans-serif').attr('fill', '#444').attr('stroke', 'none');

      // reattachment and boundary-layer annotations
      g.append('line').attr('x1', x(3.26)).attr('x2', x(3.26) + 52).attr('y1', z(p.right)).attr('y2', z(p.right))
        .attr('stroke', '#111').attr('stroke-width', 2.5).attr('marker-end', 'url(#arrow)');
      text(p.right.toFixed(2), p.rightText[0], p.rightText[1]);
      if (p.down !== null) {
        g.append('line').attr('x1', x(p.down)).attr('x2', x(p.down)).attr('y1', z(0)).attr('y2', z(0) + 62)
          .attr('stroke', '#111').attr('stroke-width', 2.5).attr('marker-end', 'url(#arrow)');
        text(p.down.toFixed(2), x(p.down), z(0) + 76);
      }
    });
  }, []);

  return <svg ref={svgRef} width={2556} height={3283} style={{ position: 'absolute', left: 0, top: 0, background: '#fff' }} />;
};

export default App;
